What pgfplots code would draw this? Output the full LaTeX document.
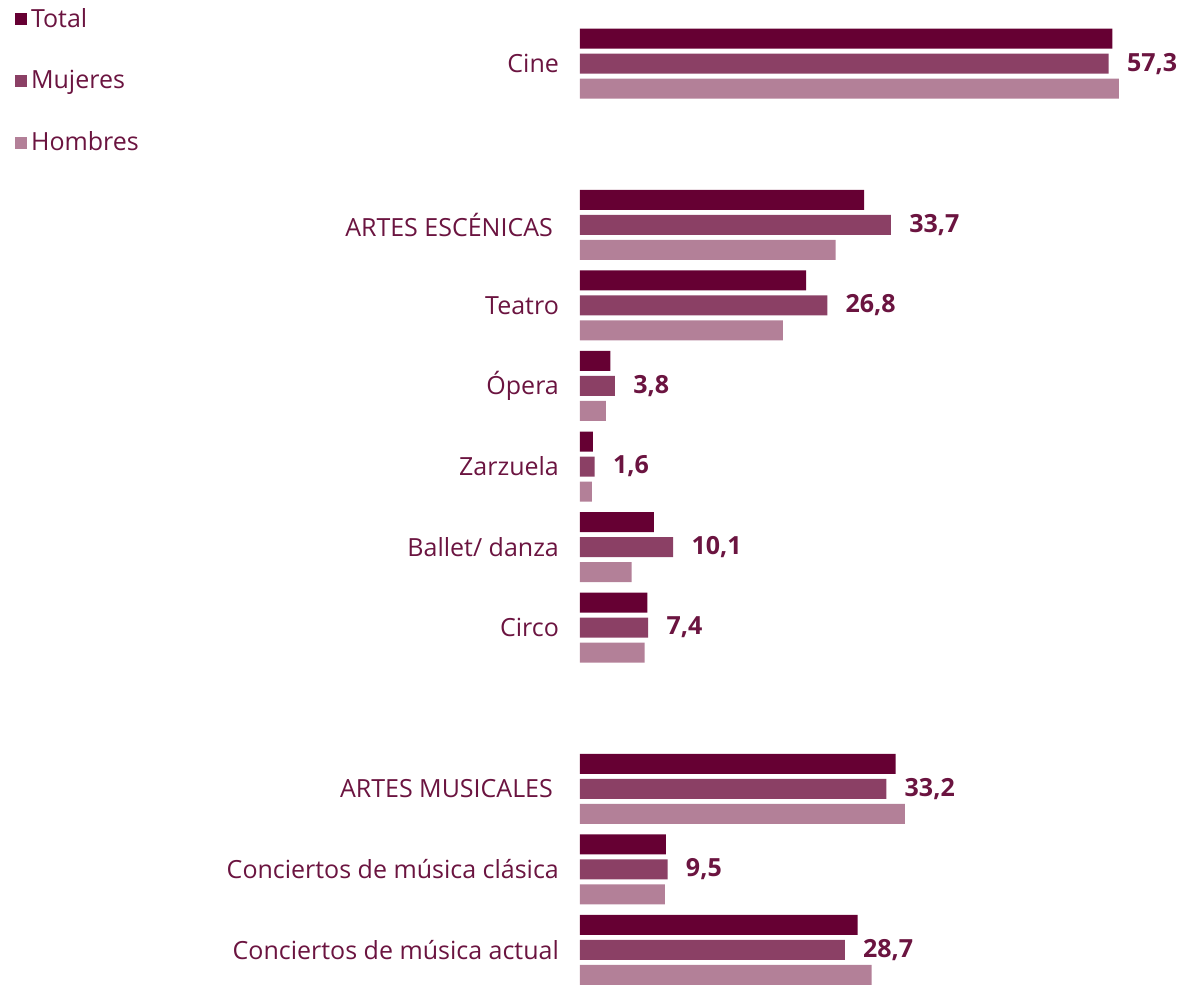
\documentclass[border=0pt]{standalone}
\usepackage{pgfplots}
\pgfplotsset{compat=1.18}
\usepackage{fontspec}
\setmainfont{Open Sans}
\definecolor{cTotal}{HTML}{660033}
\definecolor{cMuj}{HTML}{8B4065}
\definecolor{cHom}{HTML}{B38098}
\definecolor{txt}{HTML}{6B1440}
\begin{document}
\begin{tikzpicture}
\begin{axis}[
  xbar, bar width=10pt,
  scale only axis, width=300pt, height=492pt,
  xmin=0, xmax=65, ymin=-0.42, ymax=11.79,
  axis line style={draw=none}, xtick=\empty,
  ytick={0,1,2,4,5,6,7,8,9,11},
  yticklabels={Conciertos de música actual, Conciertos de música clásica, ARTES MUSICALES\kern3pt,
    Circo, Ballet/ danza, Zarzuela, Ópera, Teatro, ARTES ESCÉNICAS\kern3pt, Cine},
  major tick length=0pt,
  yticklabel style={font=\fontsize{12.5}{14}\selectfont, text=txt, xshift=-7pt},
  clip=false,
  legend image code/.code={\fill[#1] (0pt,-3pt) rectangle (6pt,3pt);},
  legend style={at={(axis cs:-61.9,11.79)}, anchor=north west, draw=none, fill=none,
    font=\fontsize{12.5}{14}\selectfont, text=txt, row sep=16pt,
    /tikz/every even column/.append style={column sep=0pt}},
  legend cell align=left,
]
\addplot[fill=cTotal, draw=none, bar shift=12.5pt] coordinates {
  (57.7,11) (30.8,9) (24.5,8) (3.3,7) (1.4,6) (8.0,5) (7.3,4) (34.2,2) (9.3,1) (30.1,0)};
\addplot[fill=cMuj, draw=none, bar shift=0pt,
  nodes near coords={\textbf{\pgfmathprintnumber[assume math mode=true, use comma, fixed, fixed zerofill, precision=1]{\pgfplotspointmeta}}},
  nodes near coords style={font=\fontsize{12.5}{14}\selectfont, text=txt, inner sep=0pt, xshift=9pt}] coordinates {
  (57.3,11) (33.7,9) (26.8,8) (3.8,7) (1.6,6) (10.1,5) (7.4,4) (33.2,2) (9.5,1) (28.7,0)};
\addplot[fill=cHom, draw=none, bar shift=-12.5pt] coordinates {
  (58.4,11) (27.7,9) (22.0,8) (2.8,7) (1.3,6) (5.6,5) (7.0,4) (35.2,2) (9.2,1) (31.6,0)};
\legend{Total, Mujeres, Hombres}
\path (axis cs:-62.84,-0.42) rectangle (axis cs:65,11.79);
\end{axis}
\end{tikzpicture}
\end{document}
